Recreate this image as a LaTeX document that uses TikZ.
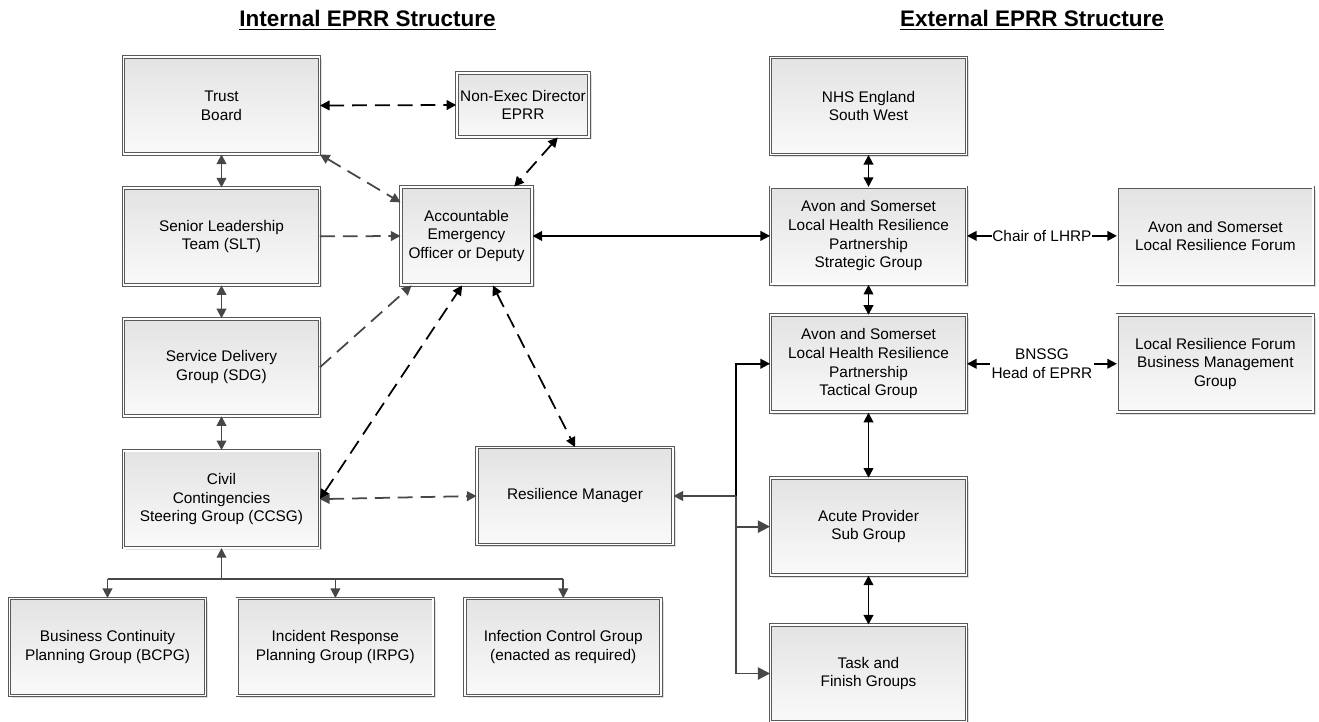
\documentclass[tikz,border=0pt]{standalone}
\usepackage{fontspec}
\setmainfont{Liberation Sans}
\usetikzlibrary{arrows.meta, positioning, shadows, calc}

\begin{document}
\begin{tikzpicture}[
    >={Triangle[length=5.5pt, width=5.5pt]}, node distance=0.66cm,
    grp/.style={draw=black!65, double=white, double distance=1.1pt,
        line width=0.5pt, top color=black!11, bottom color=black!2,
        drop shadow={shadow xshift=0.05cm, shadow yshift=-0.05cm,
          opacity=0.25},
        minimum width=3.92cm, minimum height=1.94cm, align=center,
        inner sep=2pt, font=\fontsize{8.75}{10.6}\selectfont},
    link/.style={line width=1pt, black},
    glink/.style={line width=1pt, black!72},
    dlink/.style={link, dash pattern=on 8.5pt off 4.5pt},
    gdlink/.style={glink, dash pattern=on 8.5pt off 4.5pt},
    big/.tip={Triangle[length=7pt, width=7pt]},
    ttl/.style={font=\bfseries\fontsize{12.8}{15}\selectfont}
  ]
  \useasboundingbox (0,0) rectangle (26.38,-14.44);

  \node[ttl] (hint) at (7.35,-0.4) {\underline{Internal EPRR Structure}};
  \node[ttl] (hext) at (20.64,-0.4) {\underline{External EPRR Structure}};

  % internal side
  \node[grp] (tb) at (4.43,-2.11) {Trust\\Board};
  \node[grp, below=of tb] (slt) {Senior Leadership\\Team (SLT)};
  \node[grp, below=of slt] (sdg) {Service Delivery\\Group (SDG)};
  \node[grp, below=0.68cm of sdg] (ccsg)
    {Civil\\Contingencies\\Steering Group (CCSG)};
  \node[grp, minimum width=2.48cm, minimum height=1.28cm] (ned)
    at (10.46,-2.1) {Non-Exec Director\\EPRR};
  \node[grp, minimum width=2.62cm, minimum height=1.96cm] (aeo)
    at (9.33,-4.72) {Accountable\\Emergency\\Officer or Deputy};
  \node[grp] (rm) at (11.5,-9.92) {Resilience Manager};
  \node[grp] (bcpg) at (2.15,-12.94)
    {Business Continuity\\Planning Group (BCPG)};
  \node[grp, right=0.62cm of bcpg] (irpg)
    {Incident Response\\Planning Group (IRPG)};
  \node[grp, right=0.62cm of irpg] (icg)
    {Infection Control Group\\(enacted as required)};

  % external side
  \node[grp] (nhs) at (17.37,-2.12) {NHS England\\South West};
  \node[grp, below=0.64cm of nhs] (lhs)
    {Avon and Somerset\\Local Health Resilience\\Partnership\\Strategic Group};
  \node[grp, below=0.6cm of lhs] (lht)
    {Avon and Somerset\\Local Health Resilience\\Partnership\\Tactical Group};
  \node[grp, below=1.3cm of lht] (acu) {Acute Provider\\Sub Group};
  \node[grp, below=0.98cm of acu] (tfg) {Task and\\Finish Groups};
  \node[grp, right=3cm of lhs] (lrf)
    {Avon and Somerset\\Local Resilience Forum};
  \node[grp, right=3cm of lht] (bmg)
    {Local Resilience Forum\\Business Management\\Group};

  % links round the accountable officer
  \draw[dlink, <->] (tb.east) -- (ned.west);
  \draw[dlink, <->] (ned.-43) -- (aeo.46);
  \draw[gdlink, <->] (tb.south east) -- (aeo.153);
  \draw[gdlink, ->] (slt.east) -- (aeo.west);
  \draw[gdlink, ->] (sdg.east) -- (aeo.-138);
  \draw[dlink, <->] (ccsg.east) -- (aeo.-95);
  \draw[dlink, <->] (aeo.-62) -- (rm.north);
  \draw[gdlink, <->] (ccsg.east) -- (rm.west);
  \draw[link, <->] (aeo.east) -- (lhs.west);

  \foreach \a/\b in {tb/slt, slt/sdg, sdg/ccsg}
    \draw[glink, <->] (\a) -- (\b);
  \foreach \a/\b in {nhs/lhs, lhs/lht, lht/acu, acu/tfg}
    \draw[link, <->] (\a) -- (\b);

  \draw[link, <->] (lhs) -- node[fill=white, inner sep=0pt,
    font=\fontsize{8.75}{10.6}\selectfont] (chair) {Chair of LHRP} (lrf);
  \draw[link, <->] (lht) -- node[fill=white, inner sep=1pt, align=center,
    font=\fontsize{8.75}{10.6}\selectfont] (head) {BNSSG\\Head of EPRR} (bmg);

  % CCSG sub groups
  \coordinate (fork) at ($(ccsg.south)+(0,-0.62)$);
  \draw[glink, ->] (fork) -- (ccsg.south);
  \draw[glink] (fork -| bcpg) -- (fork -| icg);
  \foreach \n in {bcpg, irpg, icg}
    \draw[glink, ->] (fork -| \n) -- (\n.north);

  % resilience manager to the LHRP groups
  \coordinate (bus) at (14.72,-9.92);
  \draw[link, ->] (bus) |- (lht.west);
  \draw[glink, ->] (bus) -- (rm.east);
  \draw[glink, -big] (bus) |- (acu.west);
  \draw[glink, -big] (bus) |- (tfg.west);
\end{tikzpicture}
\end{document}
